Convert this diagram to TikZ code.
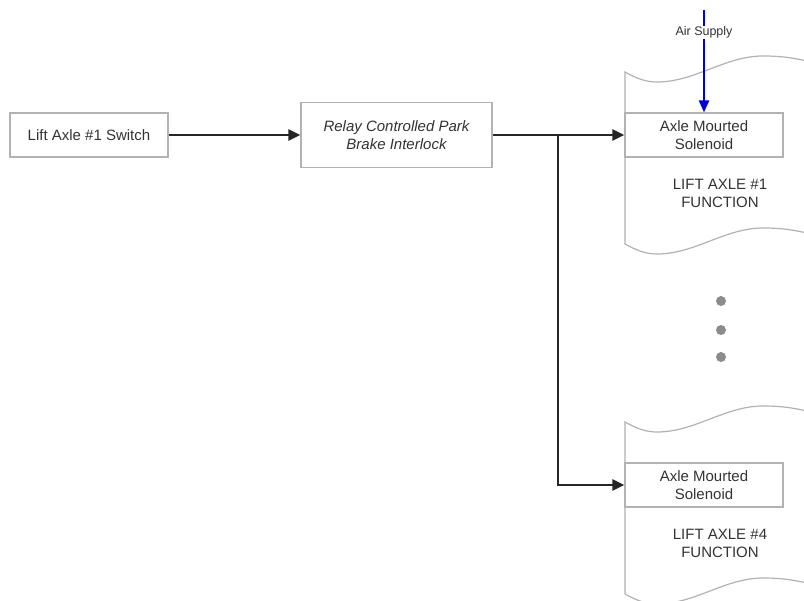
\documentclass[tikz,border=0pt]{standalone}
\usepackage{fontspec}
\setmainfont{Liberation Sans}
\usepackage{tikz}
\usetikzlibrary{positioning,arrows.meta}

\begin{document}
\begin{tikzpicture}[
x=1pt, y=-1pt,
every node/.style={text=black!80, align=center, font=\fontsize{15}{18}\selectfont},
blockbox/.style={draw=black!30, line width=1.2pt, fill=white, inner sep=0pt},
arr/.style={-{Triangle[length=12pt,width=11pt]}, line width=2.3pt, draw=black!85},
airline/.style={-{Triangle[length=12pt,width=10pt]}, line width=2.4pt, draw=blue!85!black},
airlbl/.style={fill=white, inner sep=1pt, font=\fontsize{12.5}{14}\selectfont},
wave/.style={draw=black!30, line width=1.2pt, fill=white}
]
\clip (0,0) rectangle (804,601);
\fill[white] (0,0) rectangle (804,601);

% lift axle function blocks
\foreach \dy in {0,350} {
  \draw[wave, shift={(0,\dy)}] (625,72) .. controls (636,78) and (645,82) .. (657,82)
    .. controls (695,82) and (725,56) .. (763,56)
    .. controls (790,56) and (805,60) .. (840,70)
    -- (840,242)
    .. controls (805,232) and (790,228) .. (763,228)
    .. controls (725,228) and (695,254) .. (657,254)
    .. controls (645,254) and (636,250) .. (625,244) -- cycle;
}

\node (sw) [blockbox, minimum width=158pt, minimum height=44pt] at (89,135) {Lift Axle \#1 Switch};

\node (relay) [blockbox, minimum width=191pt, minimum height=65pt] at (396.5,135) {\itshape Relay Controlled Park\\\itshape Brake Interlock};

\node (sol1) [blockbox, minimum width=158pt, minimum height=44pt] at (704,135) {Axle Mourted\\Solenoid};
\node (fn1) at (720,193) {LIFT AXLE \#1\\FUNCTION};

\node (sol4) [blockbox, minimum width=158pt, minimum height=44pt] at (704,485) {Axle Mourted\\Solenoid};
\node (fn4) at (720,543) {LIFT AXLE \#4\\FUNCTION};

\foreach \y in {301,330,357}
  \fill[black!45] (721,\y) circle (5pt);

\coordinate (air) at (704,10);
\coordinate (br) at (558,135);

\draw[arr] (sw) -- (relay);
\draw[arr] (relay) -- (sol1);
\draw[arr] (br) |- (sol4.west);
\draw[airline] (air) -- node[airlbl, pos=0.22] {Air Supply} (sol1.north);

\end{tikzpicture}
\end{document}
